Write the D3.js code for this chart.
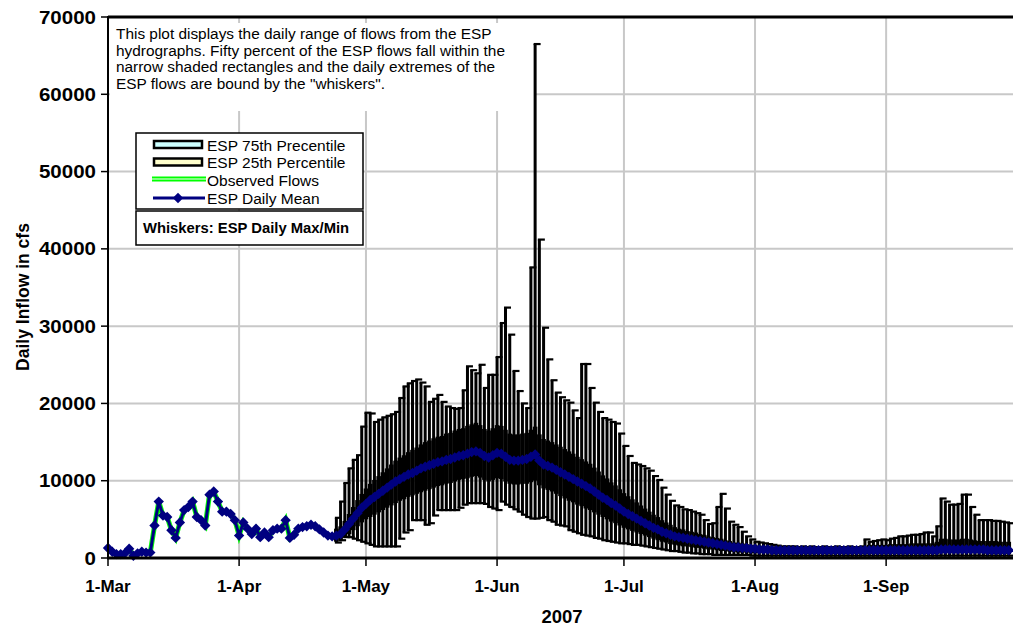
<!DOCTYPE html>
<html>
<head>
<meta charset="utf-8">
<script src="https://cdn.jsdelivr.net/npm/d3@7"></script>
<style>
  body { margin: 0; background: #fff; }
  text { font-family: "Liberation Sans", Arial, sans-serif; }
</style>
</head>
<body>
<div id="chart"></div>
<script>
  // observed flows, one per day from 1-Mar-2007
  var observedFlow = [1300, 800, 500, 500, 600, 1200, 300, 600, 800, 700,
    700, 4200, 7300, 5500, 5300, 3600, 2600, 4600, 6200, 6600,
    7300, 5300, 4900, 4200, 8200, 8600, 7300, 6000, 6000, 5700,
    4900, 2900, 4600, 3800, 3100, 3800, 2700, 3300, 2700, 3600,
    3800, 3800, 4900, 2600, 3000, 3800, 4000, 4100, 4300, 4100,
    3700, 3300, 2900, 2800, 2900];

  // ESP traces, one per day from 24-Apr-2007 to 30-Sep-2007
  var espMean = [2900, 3100, 3700, 4400, 5100, 5800, 6500, 7000, 7500, 7900,
    8300, 8700, 9100, 9500, 9900, 10200, 10500, 10800, 11000, 11300,
    11600, 11800, 12000, 12200, 12400, 12500, 12700, 12800, 13000, 13200,
    13300, 13500, 13700, 13800, 13600, 13200, 13000, 13300, 13600, 13500,
    13100, 12700, 12600, 12600, 12700, 12800, 13100, 13400, 12600, 12100,
    11900, 11700, 11400, 11100, 10800, 10500, 10200, 9900, 9600, 9300,
    9000, 8600, 8200, 7800, 7500, 7100, 6800, 6400, 6000, 5700,
    5400, 5100, 4800, 4500, 4200, 3900, 3700, 3400, 3200, 3000,
    2800, 2700, 2600, 2500, 2400, 2300, 2200, 2100, 2000, 1900,
    1800, 1700, 1600, 1500, 1400, 1400, 1300, 1300, 1200, 1200,
    1100, 1100, 1100, 1000, 1000, 1000, 1000, 1000, 1000, 1000,
    1000, 1000, 1000, 1000, 1000, 1000, 1000, 1000, 1000, 1000,
    1000, 1000, 1000, 1000, 1000, 1000, 1000, 1000, 1000, 1000,
    1000, 1000, 1000, 1000, 1000, 1000, 1000, 1000, 1000, 1000,
    1000, 1000, 1000, 1100, 1100, 1100, 1100, 1100, 1100, 1100,
    1100, 1100, 1100, 1100, 1000, 1000, 1000, 1000, 1000, 1000];

  var espP75 = [3600, 3900, 4600, 5500, 6400, 7300, 8100, 8800, 9400, 9900,
    10400, 10900, 11400, 11900, 12400, 12800, 13100, 13500, 13800, 14100,
    14500, 14800, 15000, 15300, 15500, 15600, 15900, 16000, 16300, 16500,
    16600, 16900, 17100, 17300, 17000, 16500, 16300, 16600, 17000, 16900,
    16400, 15900, 15800, 15800, 15900, 16000, 16400, 16800, 15800, 15200,
    15000, 14800, 14500, 14200, 13900, 13600, 13300, 12900, 12600, 12300,
    12000, 11500, 11000, 10500, 10100, 9600, 9200, 8700, 8200, 7800,
    7400, 7000, 6600, 6200, 5800, 5400, 5100, 4700, 4400, 4100,
    3800, 3600, 3500, 3300, 3200, 3100, 2900, 2800, 2600, 2500,
    2400, 2300, 2100, 2000, 1800, 1800, 1700, 1600, 1500, 1500,
    1400, 1400, 1400, 1300, 1300, 1300, 1300, 1300, 1300, 1300,
    1300, 1300, 1300, 1300, 1300, 1300, 1300, 1300, 1300, 1300,
    1300, 1300, 1300, 1300, 1300, 1300, 1500, 1500, 1500, 1500,
    1500, 1600, 1600, 1600, 1600, 1600, 1700, 1700, 1700, 1700,
    1700, 1700, 1900, 2300, 2300, 2200, 2200, 2200, 2300, 2300,
    2200, 2100, 2000, 2000, 2000, 2000, 2000, 1900, 1900, 1900];

  var espP25 = [2300, 2400, 2800, 3300, 3800, 4300, 4800, 5200, 5500, 5800,
    6100, 6400, 6700, 7000, 7300, 7600, 7800, 8100, 8300, 8500,
    8700, 8900, 9100, 9300, 9500, 9600, 9800, 9900, 10100, 10300,
    10400, 10500, 10700, 10800, 10600, 10300, 10100, 10300, 10500, 10400,
    10100, 9800, 9700, 9700, 9800, 9800, 10000, 10200, 9600, 9200,
    9000, 8800, 8500, 8200, 7900, 7600, 7400, 7100, 6900, 6600,
    6400, 6100, 5800, 5500, 5200, 4900, 4700, 4400, 4100, 3900,
    3700, 3500, 3300, 3100, 2900, 2700, 2500, 2300, 2200, 2000,
    1900, 1800, 1700, 1700, 1600, 1500, 1500, 1400, 1300, 1300,
    1200, 1100, 1100, 1000, 1000, 900, 900, 900, 800, 800,
    800, 800, 800, 700, 700, 700, 700, 700, 700, 700,
    700, 700, 700, 700, 700, 700, 700, 700, 700, 700,
    700, 700, 700, 700, 700, 700, 700, 700, 700, 700,
    700, 700, 700, 700, 700, 700, 700, 700, 700, 700,
    700, 700, 700, 800, 800, 800, 800, 800, 800, 800,
    800, 800, 800, 800, 700, 700, 700, 700, 700, 700];

  var espMax = [5200, 7300, 9700, 11600, 12700, 13300, 17000, 18800, 18700, 17600,
    17900, 18200, 18400, 18600, 18900, 20700, 22200, 22600, 22900, 23100,
    22700, 22200, 20200, 20600, 21100, 20200, 19600, 19400, 19300, 19400,
    21700, 24800, 24300, 23900, 25000, 22000, 23700, 23700, 26000, 30400,
    32400, 28900, 24200, 21600, 20000, 19400, 37600, 66500, 41200, 29800,
    25700, 23000, 21400, 20800, 20400, 20100, 19100, 18100, 25100, 25100,
    22000, 20100, 18900, 18100, 17900, 17600, 17400, 16100, 14500, 13200,
    12300, 12100, 11900, 11600, 11300, 10600, 10100, 9100, 8200, 7400,
    6800, 6600, 6300, 6200, 6000, 5800, 5600, 4900, 4400, 4500,
    6600, 8300, 6400, 4700, 4300, 4000, 3400, 2800, 2400, 2100,
    2000, 1900, 1800, 1700, 1600, 1500, 1500, 1500, 1500, 1400,
    1500, 1400, 1500, 1400, 1400, 1500, 1400, 1400, 1500, 1400,
    1400, 1500, 1400, 1400, 1500, 2400, 2100, 2200, 2300, 2400,
    2300, 2500, 2600, 2800, 2800, 2900, 3000, 3000, 3100, 3300,
    3300, 2800, 4100, 7700, 7300, 6900, 6900, 7000, 8200, 8200,
    6600, 5600, 4900, 4900, 4900, 4800, 4800, 4700, 4600, 4500];

  var espMin = [2000, 2300, 2700, 2700, 2500, 2300, 2100, 1900, 1700, 1500,
    1500, 1500, 1500, 1500, 1500, 2500, 3300, 3600, 4900, 4900,
    4900, 4300, 4500, 5500, 6200, 6200, 6200, 6200, 6200, 6500,
    6900, 7100, 7100, 7100, 7100, 7000, 6600, 6400, 6200, 7300,
    6900, 6600, 6300, 6000, 5600, 5300, 5100, 5100, 5200, 5300,
    4900, 4700, 4300, 4200, 4100, 3600, 3400, 3200, 3000, 2900,
    2800, 2600, 2500, 2300, 2200, 2100, 2000, 1900, 1900, 1800,
    1700, 1700, 1600, 1500, 1400, 1300, 1200, 1100, 1000, 900,
    900, 800, 700, 700, 600, 600, 500, 500, 500, 400,
    400, 400, 400, 400, 400, 400, 400, 400, 300, 300,
    300, 300, 300, 300, 300, 300, 300, 300, 300, 300,
    300, 300, 300, 300, 300, 300, 300, 300, 300, 300,
    300, 300, 300, 300, 300, 300, 300, 300, 300, 300,
    300, 300, 300, 300, 300, 300, 300, 300, 300, 300,
    300, 300, 300, 300, 300, 300, 300, 300, 300, 300,
    300, 300, 300, 300, 300, 300, 300, 300, 300, 300];

  var yTicks = [0, 10000, 20000, 30000, 40000, 50000, 60000, 70000];
  var noteLines = [
    'This plot displays the daily range of flows from the ESP',
    'hydrographs. Fifty percent of the ESP flows fall within the',
    'narrow shaded rectangles and the daily extremes of the',
    'ESP flows are bound by the "whiskers".'
  ];

  var w = 1013,
    h = 628;

  var obsStart = new Date(Date.UTC(2007, 2, 1)),
    espStart = new Date(Date.UTC(2007, 3, 24));

  var svg = d3.select('#chart')
    .append('svg')
    .attr('width', w)
    .attr('height', h);

  svg.append('rect').attr('width', w).attr('height', h).attr('fill', '#fff');

  var x = d3.scaleUtc()
    .domain([obsStart, new Date(Date.UTC(2007, 9, 1))])
    .range([108, 1013]);
  var y = d3.scaleLinear()
    .domain([0, 70000])
    .range([558, 17]);

  var monthTicks = d3.utcMonth.range(obsStart, new Date(Date.UTC(2007, 8, 2)));

  var obsData = observedFlow.map(function(v, i) {
    return {date: d3.utcDay.offset(obsStart, i), value: v};
  });
  var espData = espMean.map(function(v, i) {
    return {
      date: d3.utcDay.offset(espStart, i),
      mean: v, p75: espP75[i], p25: espP25[i], max: espMax[i], min: espMin[i]
    };
  });
  var meanData = obsData.slice(0, obsData.length - 1)
    .concat(espData.map(function(d) { return {date: d.date, value: d.mean}; }));

  ////////////////////////
  // Grid
  ////////////////////////
  var grid = svg.append('g').attr('class', 'grid');
  grid.selectAll('.hgrid')
    .data(yTicks.slice(1, -1))
    .enter().append('line')
    .attr('x1', x.range()[0]).attr('x2', x.range()[1])
    .attr('y1', function(d) { return y(d); })
    .attr('y2', function(d) { return y(d); })
    .attr('stroke', '#c8c8c8').attr('stroke-width', 2);
  grid.selectAll('.vgrid')
    .data(monthTicks.slice(1))
    .enter().append('line')
    .attr('x1', function(d) { return x(d); })
    .attr('x2', function(d) { return x(d); })
    .attr('y1', y(70000)).attr('y2', y(0))
    .attr('stroke', '#c8c8c8').attr('stroke-width', 2);

  // note box covers the grid
  var note = svg.append('g');
  note.append('rect')
    .attr('x', 110).attr('y', 23).attr('width', 424).attr('height', 88)
    .attr('fill', '#fff');
  note.selectAll('text')
    .data(noteLines)
    .enter().append('text')
    .attr('x', 116)
    .attr('y', function(d, i) { return 39 + i * 16.5; })
    .style('font-size', '15.4px')
    .text(function(d) { return d; });

  ////////////////////////
  // Observed flows
  ////////////////////////
  var line = d3.line()
    .x(function(d) { return x(d.date); })
    .y(function(d) { return y(d.value); });

  svg.append('path').datum(obsData)
    .attr('d', line).attr('fill', 'none')
    .attr('stroke', '#00ff00').attr('stroke-width', 5);
  svg.append('path').datum(obsData)
    .attr('d', line).attr('fill', 'none')
    .attr('stroke', '#fff').attr('stroke-width', 1.2);

  ////////////////////////
  // ESP whiskers and boxes
  ////////////////////////
  var esp = svg.append('g').attr('class', 'esp');
  var days = esp.selectAll('g')
    .data(espData)
    .enter().append('g')
    .attr('transform', function(d) { return 'translate(' + x(d.date) + ',0)'; });

  days.append('line')
    .attr('y1', function(d) { return y(d.min); })
    .attr('y2', function(d) { return y(d.max); })
    .attr('stroke', '#000').attr('stroke-width', 3);
  days.append('line')
    .attr('x1', -1.5).attr('x2', 5.5)
    .attr('y1', function(d) { return y(d.max); })
    .attr('y2', function(d) { return y(d.max); })
    .attr('stroke', '#000').attr('stroke-width', 2.2);
  days.append('line')
    .attr('x1', -1.5).attr('x2', 5.5)
    .attr('y1', function(d) { return y(d.min); })
    .attr('y2', function(d) { return y(d.min); })
    .attr('stroke', '#000').attr('stroke-width', 2.2);
  // boxes are narrower than their outline, so they read as solid black
  days.append('rect')
    .attr('x', -0.8).attr('width', 1.6)
    .attr('y', function(d) { return y(d.p75); })
    .attr('height', function(d) { return y(d.mean) - y(d.p75); })
    .attr('fill', '#ccffff').attr('stroke', '#000').attr('stroke-width', 3);
  days.append('rect')
    .attr('x', -0.8).attr('width', 1.6)
    .attr('y', function(d) { return y(d.mean); })
    .attr('height', function(d) { return y(d.p25) - y(d.mean); })
    .attr('fill', '#ffffcc').attr('stroke', '#000').attr('stroke-width', 3);

  ////////////////////////
  // Daily mean
  ////////////////////////
  var diamond = 'M0,-5.2L5.2,0L0,5.2L-5.2,0Z';
  svg.append('path').datum(meanData)
    .attr('d', line).attr('fill', 'none')
    .attr('stroke', '#000080').attr('stroke-width', 3);
  svg.append('g').selectAll('path')
    .data(meanData)
    .enter().append('path')
    .attr('d', diamond)
    .attr('fill', '#000080')
    .attr('transform', function(d) { return 'translate(' + x(d.date) + ',' + y(d.value) + ')'; });

  ////////////////////////
  // Axes
  ////////////////////////
  var axes = svg.append('g');
  axes.append('line')
    .attr('x1', 108).attr('x2', 1013).attr('y1', 17).attr('y2', 17)
    .attr('stroke', '#000').attr('stroke-width', 3);
  axes.append('line')
    .attr('x1', 108).attr('x2', 108).attr('y1', 16).attr('y2', 559)
    .attr('stroke', '#000').attr('stroke-width', 2);
  axes.append('line')
    .attr('x1', 107).attr('x2', 1013).attr('y1', 558).attr('y2', 558)
    .attr('stroke', '#000').attr('stroke-width', 3);

  axes.selectAll('.ytick')
    .data(yTicks)
    .enter().append('line')
    .attr('x1', 101).attr('x2', 108)
    .attr('y1', function(d) { return y(d); })
    .attr('y2', function(d) { return y(d); })
    .attr('stroke', '#000').attr('stroke-width', 1.5);
  axes.selectAll('.ylabel')
    .data(yTicks)
    .enter().append('text')
    .attr('transform', function(d) { return 'translate(96,' + (y(d) + 6.5) + ') scale(1.14,1)'; })
    .attr('text-anchor', 'end')
    .style('font-size', '18px').style('font-weight', 'bold')
    .text(function(d) { return d; });

  axes.selectAll('.xtick')
    .data(monthTicks)
    .enter().append('line')
    .attr('x1', function(d) { return x(d); })
    .attr('x2', function(d) { return x(d); })
    .attr('y1', 558).attr('y2', 566)
    .attr('stroke', '#000').attr('stroke-width', 1.5);
  axes.selectAll('.xlabel')
    .data(monthTicks)
    .enter().append('text')
    .attr('x', function(d) { return x(d); })
    .attr('y', 592)
    .attr('text-anchor', 'middle')
    .style('font-size', '17px').style('font-weight', 'bold')
    .text(function(d) { return d3.utcFormat('%-d-%b')(d); });

  svg.append('text')
    .attr('x', 562).attr('y', 623)
    .attr('text-anchor', 'middle')
    .style('font-size', '18.5px').style('font-weight', 'bold')
    .text('2007');
  svg.append('text')
    .attr('transform', 'translate(29,297) rotate(-90)')
    .attr('text-anchor', 'middle')
    .style('font-size', '17.5px').style('font-weight', 'bold')
    .text('Daily Inflow in cfs');

  ////////////////////////
  // Legend
  ////////////////////////
  var legend = svg.append('g').attr('class', 'legend');
  legend.append('rect')
    .attr('x', 136).attr('y', 133).attr('width', 227).attr('height', 76)
    .attr('fill', '#fff').attr('stroke', '#000').attr('stroke-width', 1.5);
  legend.append('rect')
    .attr('x', 136).attr('y', 211).attr('width', 227).attr('height', 34)
    .attr('fill', '#fff').attr('stroke', '#000').attr('stroke-width', 1.5);

  legend.append('rect')
    .attr('x', 154).attr('y', 141).attr('width', 48).attr('height', 7)
    .attr('fill', '#ccffff').attr('stroke', '#000').attr('stroke-width', 2.5);
  legend.append('rect')
    .attr('x', 154).attr('y', 158.5).attr('width', 48).attr('height', 7)
    .attr('fill', '#ffffcc').attr('stroke', '#000').attr('stroke-width', 2.5);
  legend.append('line')
    .attr('x1', 152).attr('x2', 206).attr('y1', 179).attr('y2', 179)
    .attr('stroke', '#00ff00').attr('stroke-width', 5);
  legend.append('line')
    .attr('x1', 152).attr('x2', 206).attr('y1', 179).attr('y2', 179)
    .attr('stroke', '#fff').attr('stroke-width', 1.2);
  legend.append('line')
    .attr('x1', 153).attr('x2', 205).attr('y1', 198).attr('y2', 198)
    .attr('stroke', '#000080').attr('stroke-width', 3);
  legend.append('path')
    .attr('d', diamond).attr('fill', '#000080')
    .attr('transform', 'translate(178,198)');

  var legendLabels = ['ESP 75th Precentile', 'ESP 25th Percentile', 'Observed Flows', 'ESP Daily Mean'];
  legend.selectAll('.label')
    .data(legendLabels)
    .enter().append('text')
    .attr('x', 207)
    .attr('y', function(d, i) { return 150.5 + i * 17.7; })
    .style('font-size', '15.5px')
    .text(function(d) { return d; });
  legend.append('text')
    .attr('x', 143).attr('y', 233)
    .style('font-size', '14.8px').style('font-weight', 'bold')
    .text('Whiskers: ESP Daily Max/Min');
</script>
</body>
</html>
